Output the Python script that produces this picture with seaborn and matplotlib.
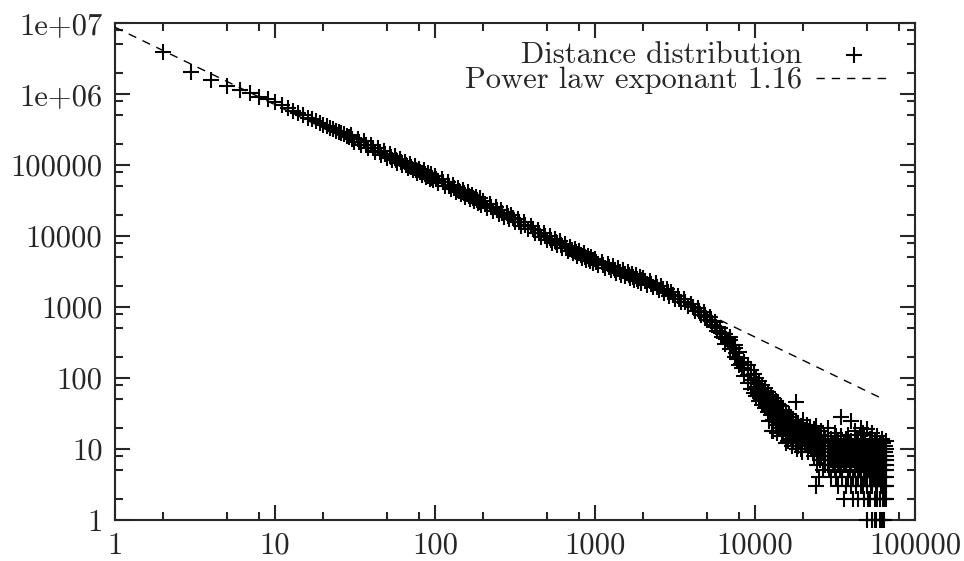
import numpy as np
import pandas as pd
import matplotlib
matplotlib.use("Agg")
import matplotlib.pyplot as plt
import seaborn as sns

# distance distribution, small distances (one point per distance)
head_x = [2, 3, 4, 5, 6, 7, 8, 9, 10, 11, 12, 13, 14, 15, 16, 17, 18, 19, 20,
          21, 22, 23, 24, 25, 26, 27, 28, 29]
head_y = [3.9e6, 2.05e6, 1.6e6, 1.3e6, 1.15e6, 1.02e6, 9.2e5, 8.4e5, 7.7e5,
          7.0e5, 6.3e5, 5.85e5, 5.35e5, 5.05e5, 4.65e5, 4.4e5, 4.1e5, 3.95e5,
          3.7e5, 3.55e5, 3.35e5, 3.25e5, 3.05e5, 2.95e5, 2.8e5, 2.72e5, 2.6e5, 2.52e5]

# dense band, upper edge of the points
band_hi_x = [30, 33, 36, 40, 44, 48, 52, 56, 60, 65, 70, 75, 80, 85, 90, 95,
             100, 110, 120, 130, 140, 150, 160, 170, 180, 190,
             200, 220, 240, 260, 280, 300, 330, 360,
             400, 440, 480, 520, 560, 600, 650, 700, 750, 800, 850, 900, 950,
             1000, 1100, 1200, 1300, 1400, 1500, 1600, 1700, 1800, 1900,
             2000, 2200, 2400, 2600, 2800, 3000, 3300, 3600,
             4000, 4400, 4800, 5200, 5600, 6000, 6500, 7000, 7500, 8000]
band_hi_y = [2.62e5, 2.35e5, 2.15e5, 1.91e5, 1.72e5, 1.57e5, 1.44e5, 1.33e5,
             1.23e5, 1.12e5, 1.04e5, 9.6e4, 8.9e4, 8.4e4, 7.8e4, 7.4e4,
             7.1e4, 6.3e4, 5.7e4, 5.2e4, 4.8e4, 4.4e4, 4.1e4, 3.8e4, 3.6e4, 3.4e4,
             3.16e4, 2.85e4, 2.56e4, 2.32e4, 2.14e4, 1.98e4, 1.74e4, 1.59e4,
             1.38e4, 1.22e4, 1.11e4, 9.9e3, 9.2e3, 8.4e3, 7.6e3, 7.0e3, 6.5e3,
             6.1e3, 5.7e3, 5.3e3, 5.1e3,
             4.8e3, 4.36e3, 4.0e3, 3.75e3, 3.5e3, 3.27e3, 3.13e3, 2.96e3, 2.81e3, 2.68e3,
             2.56e3, 2.34e3, 2.16e3, 1.97e3, 1.8e3, 1.65e3, 1.45e3, 1.3e3,
             1120, 970, 840, 720, 605, 500, 415, 345, 262, 190]

# dense band, middle of the points
band_mid_x = [30.5, 33.5, 37, 41, 45, 49, 53, 57, 61, 66, 71, 76, 81, 86, 91, 96,
              102, 112, 122, 132, 142, 152, 162, 172, 182, 192,
              204, 224, 244, 264, 284, 306, 336, 367,
              408, 448, 490, 530, 571, 612, 663, 714, 765, 816, 867, 918, 969,
              1020, 1122, 1224, 1326, 1428, 1530, 1632, 1734, 1836, 1938,
              2040, 2244, 2448, 2652, 2856, 3060, 3366, 3672,
              4080, 4488, 4896, 5304, 5712, 6120, 6630, 7140, 7650, 8160]
band_mid_y = [2.35e5, 2.11e5, 1.92e5, 1.71e5, 1.54e5, 1.41e5, 1.29e5, 1.19e5,
              1.1e5, 1.01e5, 9.3e4, 8.6e4, 8.0e4, 7.5e4, 7.05e4, 6.65e4,
              6.35e4, 5.7e4, 5.1e4, 4.7e4, 4.3e4, 3.97e4, 3.7e4, 3.42e4, 3.22e4, 3.05e4,
              2.84e4, 2.55e4, 2.3e4, 2.08e4, 1.92e4, 1.78e4, 1.57e4, 1.43e4,
              1.24e4, 1.1e4, 1.0e4, 8.9e3, 8.2e3, 7.5e3, 6.85e3, 6.25e3, 5.87e3,
              5.48e3, 5.1e3, 4.8e3, 4.57e3,
              4.3e3, 3.91e3, 3.62e3, 3.37e3, 3.13e3, 2.94e3, 2.81e3, 2.66e3, 2.52e3, 2.41e3,
              2.3e3, 2.1e3, 1.94e3, 1.77e3, 1.61e3, 1.48e3, 1.3e3, 1.16e3,
              1000, 865, 745, 635, 530, 437, 360, 295, 222, 160]

# dense band, lower edge of the points
band_lo_x = [31, 34.5, 38, 42, 46, 50, 54, 58, 62.5, 67.5, 72.5, 77.5, 82.5,
             87.5, 92.5, 97.5, 105, 115, 125, 135, 145, 155, 165, 175, 185, 195,
             210, 230, 250, 270, 290, 315, 345, 380, 420, 460, 500, 540, 580,
             625, 675, 725, 775, 825, 875, 925, 975, 1050, 1150, 1250, 1350,
             1450, 1550, 1650, 1750, 1850, 1950, 2100, 2300, 2500, 2700, 2900,
             3150, 3450, 3800, 4200, 4600, 5000, 5400, 5800, 6250, 6750, 7250,
             7750, 8250]
band_lo_y = [2.12e5, 1.89e5, 1.71e5, 1.52e5, 1.39e5, 1.27e5, 1.17e5, 1.07e5,
             9.9e4, 9.1e4, 8.4e4, 7.8e4, 7.3e4, 6.8e4, 6.4e4, 6.1e4, 5.6e4,
             5.0e4, 4.6e4, 4.2e4, 3.9e4, 3.6e4, 3.34e4, 3.1e4, 2.94e4, 2.75e4,
             2.52e4, 2.27e4, 2.05e4, 1.88e4, 1.73e4, 1.57e4, 1.4e4, 1.25e4,
             1.1e4, 9.8e3, 8.8e3, 8.0e3, 7.4e3, 6.7e3, 6.15e3, 5.7e3, 5.3e3,
             4.95e3, 4.63e3, 4.4e3, 4.16e3, 3.85e3, 3.53e3, 3.28e3, 3.05e3,
             2.84e3, 2.7e3, 2.57e3, 2.43e3, 2.31e3, 2.2e3, 2.06e3, 1.89e3,
             1.74e3, 1.59e3, 1.45e3, 1.3e3, 1.16e3, 1020, 880, 760, 655, 555,
             463, 383, 317, 255, 188, 138]

# noisy tail (counts)
tail_x = [6500, 6500, 7000, 7000, 7500, 7500, 8000, 8000, 8500, 8500,
          9000, 9000, 9000, 9400, 9400, 9400, 9800, 9800, 9800,
          10200, 10200, 10200, 10600, 10600, 10600, 11000, 11000, 11000,
          11500, 11500, 11500, 12000, 12000, 12000, 12500, 12500, 12500,
          13000, 13000, 13000, 13000, 13500, 13500, 13500, 14000, 14000, 14000,
          14500, 14500, 14500, 15000, 15000, 15000, 15600, 15600, 15600, 15600,
          16200, 16200, 16200, 16800, 16800, 16800, 17400, 17400, 17400,
          18000, 18000, 18000, 18000, 18700, 18700, 18700, 19300, 19300, 19300,
          20000, 20000, 20000, 21000, 21000, 21000, 22000, 22000, 22000,
          23000, 23000, 23000, 24000, 24000, 24000, 24000,
          25000, 25000, 25000, 25000, 26000, 26000, 26000, 27000, 27000, 27000,
          28500, 28500, 28500, 28500, 30000, 30000, 30000, 30000,
          31500, 31500, 31500, 31500, 33000, 33000, 33000, 33000,
          34500, 34500, 34500, 34500, 34500, 36000, 36000, 36000, 36000,
          38000, 38000, 38000, 38000, 40000, 40000, 40000, 40000, 40000,
          42000, 42000, 42000, 42000, 44000, 44000, 44000, 44000, 44000,
          46000, 46000, 46000, 46000, 46000, 48000, 48000, 48000, 48000, 48000,
          50000, 50000, 50000, 50000, 50000, 50000,
          52000, 52000, 52000, 52000, 52000,
          54000, 54000, 54000, 54000, 54000, 54000,
          56000, 56000, 56000, 56000, 56000, 56000,
          58000, 58000, 58000, 58000, 58000, 58000,
          60000, 60000, 60000, 60000, 60000, 60000,
          62000, 62000, 62000, 62000, 62000, 62000,
          64000, 64000, 64000, 64000, 64000, 64000, 64000,
          66000, 66000, 66000, 66000, 66000, 66000, 66000, 66000, 66000]
tail_y = [420, 300, 380, 260, 290, 200, 230, 150, 170, 105,
          150, 110, 85, 130, 95, 70, 115, 85, 62,
          100, 75, 55, 90, 66, 48, 80, 58, 42,
          72, 52, 38, 64, 46, 33, 58, 42, 30,
          52, 38, 26, 18, 47, 34, 24, 43, 31, 22,
          40, 28, 20, 36, 26, 18, 33, 24, 16, 12,
          31, 22, 15, 28, 20, 14, 26, 19, 13,
          46, 24, 17, 12, 23, 16, 11, 21, 15, 10,
          26, 19, 14, 22, 16, 12, 20, 15, 11,
          17, 13, 9, 21, 14, 10, 3,
          16, 12, 8, 4, 18, 11, 8, 15, 10, 7,
          20, 13, 9, 6, 14, 10, 7, 4,
          17, 11, 8, 5, 13, 9, 6, 3,
          28, 15, 10, 7, 5, 12, 8, 6, 2,
          16, 11, 7, 4, 25, 13, 9, 6, 3,
          18, 10, 7, 5, 14, 9, 6, 4, 2,
          20, 12, 8, 5, 3, 16, 10, 7, 4, 2,
          19, 11, 8, 5, 3, 1,
          14, 9, 6, 4, 2,
          17, 10, 7, 5, 3, 1,
          13, 8, 6, 4, 2, 1,
          15, 9, 7, 5, 3, 2,
          12, 8, 6, 4, 2, 1,
          14, 10, 7, 5, 3, 1,
          11, 9, 6, 4, 3, 2, 1,
          13, 10, 8, 7, 6, 5, 4, 3, 2]

# more tail counts, in between the columns above
tail2_x = [10400, 10400, 10800, 10800, 11200, 11200, 11800, 11800,
           12300, 12300, 12300, 12800, 12800, 12800, 13300, 13300,
           13800, 13800, 13800, 14300, 14300, 14800, 14800, 14800,
           15300, 15300, 16000, 16000, 16000, 16500, 16500,
           17100, 17100, 17100, 17700, 17700, 18400, 18400, 18400,
           19000, 19000, 19700, 19700, 19700, 20500, 20500,
           21500, 21500, 21500, 22500, 22500, 23500, 23500, 23500,
           24500, 24500, 24500, 25500, 25500, 25500, 26500, 26500, 26500,
           27500, 27500, 27500, 29000, 29000, 29000, 30800, 30800, 30800,
           32200, 32200, 32200, 32200, 33800, 33800, 33800, 35200, 35200, 35200,
           37000, 37000, 37000, 37000, 39000, 39000, 39000,
           41000, 41000, 41000, 41000, 43000, 43000, 43000, 43000,
           45000, 45000, 45000, 47000, 47000, 47000, 47000,
           49000, 49000, 49000, 49000, 51000, 51000, 51000, 51000,
           53000, 53000, 53000, 53000, 55000, 55000, 55000, 55000,
           57000, 57000, 57000, 57000, 57000, 59000, 59000, 59000, 59000,
           61000, 61000, 61000, 61000, 63000, 63000, 63000, 63000, 63000,
           65000, 65000, 65000, 65000, 65000, 65000]
tail2_y = [82, 60, 72, 52, 65, 47, 56, 40,
           50, 36, 25, 44, 32, 18, 40, 29,
           36, 26, 17, 33, 24, 30, 22, 15,
           28, 20, 26, 18, 13, 24, 17,
           22, 16, 11, 20, 15, 19, 14, 10,
           18, 13, 17, 12, 9, 17, 12,
           18, 13, 9, 14, 10, 19, 12, 8,
           13, 9, 6, 15, 10, 7, 12, 9, 5,
           14, 9, 6, 11, 8, 5, 12, 8, 6,
           15, 10, 7, 4, 11, 8, 5, 9, 7, 4,
           14, 10, 6, 3, 12, 8, 5,
           10, 7, 4, 2, 13, 8, 6, 3,
           11, 7, 5, 17, 9, 6, 3,
           12, 8, 5, 4, 10, 7, 5, 2,
           12, 8, 6, 3, 11, 7, 5, 4,
           10, 8, 6, 3, 1, 11, 7, 5, 4,
           9, 7, 5, 3, 12, 8, 6, 4, 2,
           11, 9, 7, 5, 3, 2]

# fitted power law, end points as drawn
powerlaw_x = [1, 65000]
powerlaw_y = [8.7e6, 49]

xtick_values = [1, 10, 100, 1000, 10000, 100000]
xtick_labels = ["1", "10", "100", "1000", "10000", "100000"]
ytick_values = [1, 10, 100, 1000, 10000, 100000, 1e6, 1e7]
ytick_labels = ["1", "10", "100", "1000", "10000", "100000", "1e+06", "1e+07"]

df = pd.DataFrame({
    "distance": head_x + band_hi_x + band_mid_x + band_lo_x + tail_x + tail2_x,
    "count": head_y + band_hi_y + band_mid_y + band_lo_y + tail_y + tail2_y,
})
fit = pd.DataFrame({"distance": powerlaw_x, "count": powerlaw_y})

sns.set_style("ticks")
plt.rcParams["font.family"] = ["cmr10", "DejaVu Serif"]
plt.rcParams["axes.formatter.use_mathtext"] = True

fig = plt.figure(figsize=(9.64, 5.61), dpi=100)
ax = fig.add_axes([115 / 964, 41 / 561, 800 / 964, 497 / 561])

sns.scatterplot(data=df, x="distance", y="count", marker="+", s=125,
                color="black", linewidth=1.5, ax=ax, clip_on=False,
                label="Distance distribution", zorder=3)
sns.lineplot(data=fit, x="distance", y="count", color="black", linewidth=1.0,
             linestyle=(0, (6, 5)), ax=ax, label="Power law exponant 1.16",
             zorder=4)

ax.set_xscale("log")
ax.set_yscale("log")
ax.set_xlim(1, 100000)
ax.set_ylim(1, 1e7)

ax.set_xticks(xtick_values)
ax.set_xticklabels(xtick_labels)
ax.set_yticks(ytick_values)
ax.set_yticklabels(ytick_labels)
minor = [m * 10.0 ** k for k in range(0, 7) for m in (2, 5, 8)]
ax.set_xticks([v for v in minor if v < 100000], minor=True)
ax.set_yticks([v for v in minor if v < 1e7], minor=True)
ax.xaxis.set_minor_formatter(matplotlib.ticker.NullFormatter())
ax.yaxis.set_minor_formatter(matplotlib.ticker.NullFormatter())

ax.tick_params(which="both", direction="in", top=True, right=True,
               width=1.5, labelsize=22, pad=9)
ax.tick_params(which="major", length=11)
ax.tick_params(which="minor", length=6)
for s in ax.spines.values():
    s.set_linewidth(1.5)
ax.set_xlabel("")
ax.set_ylabel("")

ax.legend(loc="upper right", bbox_to_anchor=(0.97, 0.962), frameon=False,
          markerfirst=False, fontsize=22, borderpad=0, borderaxespad=0,
          handlelength=2.45, handletextpad=0.45, labelspacing=-0.08)

fig.savefig("out.png", dpi=100)
